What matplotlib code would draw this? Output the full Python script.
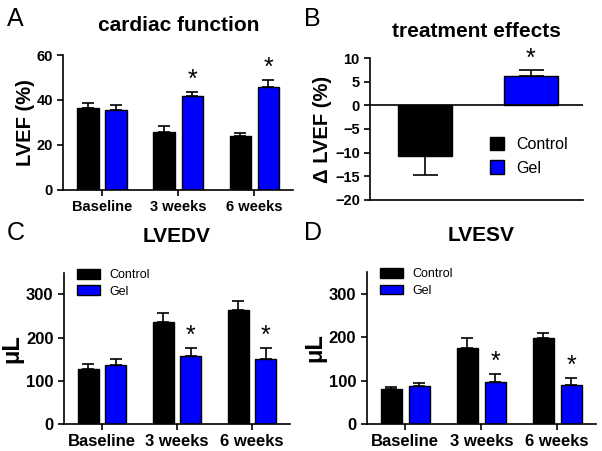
import matplotlib
import matplotlib.pyplot as plt
import numpy as np
from matplotlib.patches import Patch

matplotlib.rcParams["font.family"] = "Liberation Sans"

groups = ["Baseline", "3 weeks", "6 weeks"]

# panel A: LVEF (%)
lvef_ctrl = [36.3, 25.6, 23.8]
lvef_ctrl_err = [2.4, 3.0, 1.7]
lvef_gel = [35.5, 41.8, 45.8]
lvef_gel_err = [2.4, 1.7, 3.0]

# panel B: change in LVEF
delta_names = ["Control", "Gel"]
delta_vals = [-10.8, 6.2]
delta_err = [3.9, 1.2]

# panel C: LVEDV (uL)
edv_ctrl = [128, 235, 263]
edv_ctrl_err = [10, 22, 22]
edv_gel = [137, 158, 150]
edv_gel_err = [13, 19, 27]

# panel D: LVESV (uL)
esv_ctrl = [80, 174, 197]
esv_ctrl_err = [5, 24, 13]
esv_gel = [87, 96, 89]
esv_gel_err = [8, 19, 17]

BLUE = "#0000ff"
W = 0.28
OFF = 0.185


def style(ax, ysize=10.5):
    ax.spines["top"].set_visible(False)
    ax.spines["right"].set_visible(False)
    ax.spines["left"].set_linewidth(1.2)
    ax.spines["bottom"].set_linewidth(1.2)
    ax.tick_params(direction="out", width=1.2, length=4, labelsize=10.5)
    ax.tick_params(axis="y", labelsize=ysize)
    for lab in ax.get_xticklabels() + ax.get_yticklabels():
        lab.set_fontweight("bold")


def grouped(ax, ctrl, cerr, gel, gerr, stars):
    x = np.arange(len(groups))
    ek = dict(ecolor="black", elinewidth=1.2, capsize=4.5, capthick=1.2)
    ax.bar(x - OFF, ctrl, W, color="black", edgecolor="black",
           yerr=[np.zeros(3), cerr], error_kw=ek, zorder=2)
    ax.bar(x + OFF, gel, W, color=BLUE, edgecolor="black",
           yerr=[np.zeros(3), gerr], error_kw=ek, zorder=2)
    for i in stars:
        ax.text(x[i] + OFF, gel[i] + gerr[i], "*", ha="center", va="bottom",
                fontsize=18)
    ax.set_xticks(x)
    ax.set_xticklabels(groups)
    ax.set_xlim(-0.51, 2.51)


fig = plt.figure(figsize=(6.02, 4.51), dpi=100)
handles = [Patch(facecolor="black", edgecolor="black"),
           Patch(facecolor=BLUE, edgecolor="black")]

# A
axA = fig.add_axes([0.105, 0.579, 0.382, 0.299])
grouped(axA, lvef_ctrl, lvef_ctrl_err, lvef_gel, lvef_gel_err, [1, 2])
axA.set_ylim(0, 60)
axA.set_yticks([0, 20, 40, 60])
axA.set_ylabel("LVEF (%)", fontsize=14.5, fontweight="bold", labelpad=1)
axA.set_title("cardiac function", fontsize=15, fontweight="bold", pad=17)
style(axA)

# B
axB = fig.add_axes([0.615, 0.557, 0.353, 0.314])
xb = np.arange(2)
ek = dict(ecolor="black", elinewidth=1.2, capsize=9, capthick=1.2)
axB.bar(xb[0], delta_vals[0], 0.51, color="black", edgecolor="black",
        yerr=[[delta_err[0]], [0]], error_kw=ek, zorder=2)
axB.bar(xb[1], delta_vals[1], 0.51, color=BLUE, edgecolor="black",
        yerr=[[0], [delta_err[1]]], error_kw=ek, zorder=2)
axB.text(xb[1], delta_vals[1] + delta_err[1], "*", ha="center", va="bottom",
         fontsize=18)
axB.axhline(0, color="black", lw=1.2, zorder=3)
axB.set_xlim(-0.52, 1.49)
axB.set_ylim(-20, 10)
axB.set_yticks(np.arange(-20, 11, 5))
axB.set_xticks([])
axB.set_ylabel("Δ LVEF (%)", fontsize=14.5, fontweight="bold", labelpad=2)
axB.set_title("treatment effects", fontsize=15, fontweight="bold", pad=15)
style(axB)
axB.legend(handles, delta_names, loc="lower right", bbox_to_anchor=(1.0, 0.07),
           frameon=False, fontsize=11.5, handlelength=0.9, handleheight=0.9,
           labelspacing=0.5)

# C
axC = fig.add_axes([0.106, 0.06, 0.376, 0.335])
grouped(axC, edv_ctrl, edv_ctrl_err, edv_gel, edv_gel_err, [1, 2])
axC.set_ylim(0, 350)
axC.set_yticks([0, 100, 200, 300])
axC.set_ylabel("μL", fontsize=17, fontweight="bold", labelpad=2)
axC.set_title("LVEDV", fontsize=15, fontweight="bold", pad=22)
style(axC, ysize=12)
axC.tick_params(axis="x", labelsize=12)
axC.legend(handles, delta_names, loc="upper left", bbox_to_anchor=(0.01, 1.1),
           frameon=False, fontsize=9, handlelength=1.8, handleheight=0.8,
           labelspacing=0.35)

# D
axD = fig.add_axes([0.609, 0.06, 0.381, 0.337])
grouped(axD, esv_ctrl, esv_ctrl_err, esv_gel, esv_gel_err, [1, 2])
axD.set_ylim(0, 350)
axD.set_yticks([0, 100, 200, 300])
axD.set_ylabel("μL", fontsize=17, fontweight="bold", labelpad=2)
axD.set_title("LVESV", fontsize=15, fontweight="bold", pad=22)
style(axD, ysize=12)
axD.tick_params(axis="x", labelsize=12)
axD.legend(handles, delta_names, loc="upper left", bbox_to_anchor=(0.01, 1.1),
           frameon=False, fontsize=9, handlelength=1.8, handleheight=0.8,
           labelspacing=0.35)

for lab, (x, y) in zip("ABCD", [(0.012, 0.985), (0.505, 0.985),
                                 (0.012, 0.51), (0.505, 0.51)]):
    fig.text(x, y, lab, fontsize=18, ha="left", va="top")

fig.savefig("out.png", dpi=100)
